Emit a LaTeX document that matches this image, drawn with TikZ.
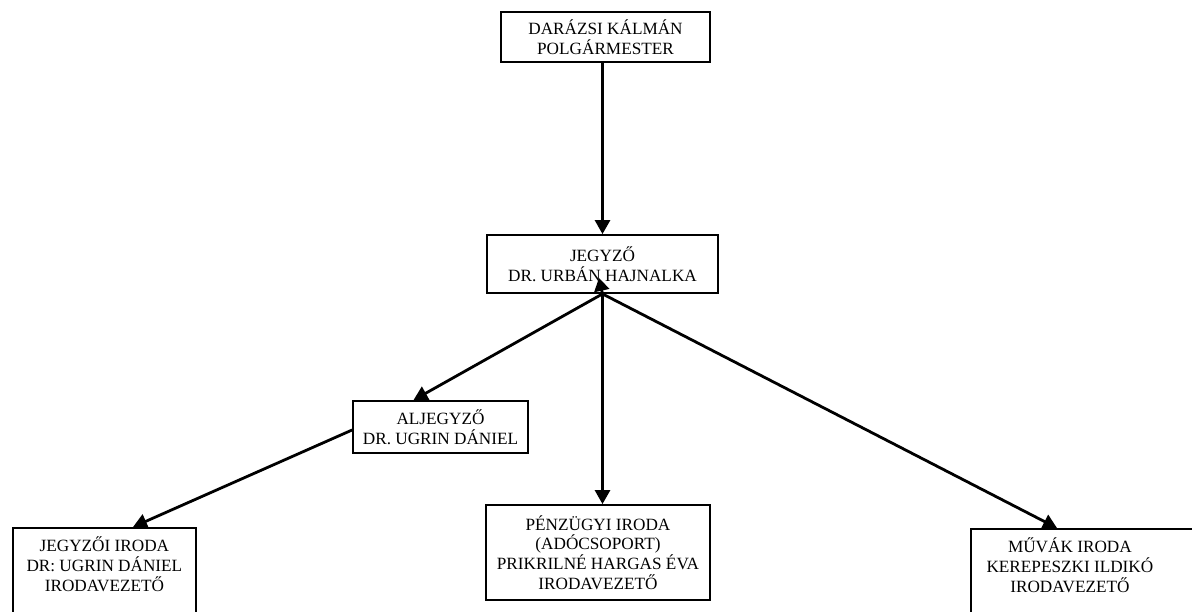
\documentclass[tikz,border=0pt]{standalone}
\usepackage{fontspec}
\setmainfont{Liberation Serif}
\usetikzlibrary{arrows.meta}
\begin{document}
\begin{tikzpicture}[x=1pt,y=-1pt,
  box/.style={draw, line width=1.8pt, align=center, inner sep=0pt,
    font=\fontsize{17.2}{19.7}\selectfont},
  cutbox/.style={draw, line width=1.8pt, inner sep=0pt,
    font=\fontsize{17.2}{19.7}\selectfont, anchor=north west,
    text height=24pt, text depth=100pt},
  link/.style={line width=2.8pt, line join=round,
    -{Triangle[length=14pt,width=15pt]}},
  twolink/.style={line width=2.8pt, line join=round,
    {Triangle[length=14pt,width=15pt]}-{Triangle[length=13pt,width=15pt]}},
  ]
\useasboundingbox (0,0) rectangle (1192,611);
\node[box, minimum width=209pt, minimum height=50pt] (pm) at (605.5,37)
  {DARÁZSI KÁLMÁN\\POLGÁRMESTER};
\node[box, minimum width=231pt, minimum height=58pt] (jg) at (602.5,264)
  {JEGYZŐ\\DR. URBÁN HAJNALKA};
\node[box, minimum width=175pt, minimum height=52pt] (al) at (440.5,427)
  {ALJEGYZŐ\\DR. UGRIN DÁNIEL};
\node[box, minimum width=224pt, minimum height=95pt] (pe) at (598,552.5)
  {PÉNZÜGYI IRODA\\(ADÓCSOPORT)\\PRIKRILNÉ HARGAS ÉVA\\IRODAVEZETŐ};
\node[cutbox] (ji) at (12,527)
  {\parbox[t]{183pt}{\centering JEGYZŐI IRODA\\DR: UGRIN DÁNIEL\\IRODAVEZETŐ}};
\node[cutbox] (mv) at (970,528)
  {\parbox[t]{198pt}{\centering MŰVÁK IRODA\\KEREPESZKI ILDIKÓ\\IRODAVEZETŐ}\hspace*{40pt}};

\draw[link] (jg.north |- pm.south) -- (jg.north);
\draw[link] (jg.south) -- (jg.south |- pe.north);
\draw[link] (jg.south) -- ([xshift=87pt]mv.north west);
\draw[twolink] ([xshift=-27pt]al.north) -- (jg.south) -- ([xshift=-3.5pt,yshift=16pt]jg.south);
\draw[link] ([yshift=-3pt]al.west) -- ([xshift=121pt]ji.north west);
\end{tikzpicture}
\end{document}
